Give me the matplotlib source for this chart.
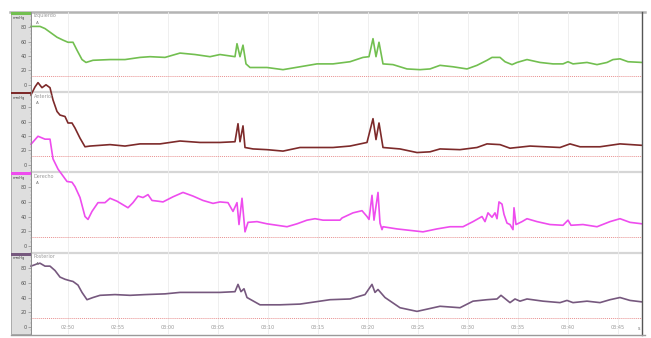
import matplotlib
matplotlib.use("Agg")
import matplotlib.pyplot as plt
from matplotlib.patches import Rectangle
from matplotlib.lines import Line2D
from matplotlib.ticker import FuncFormatter, MultipleLocator

# time in seconds (02:50 == 170 s), pressure in mmHg
t_izq = [166.3, 167.2, 167.7, 168.2, 168.9, 169.5, 170.0, 170.5, 170.9, 171.4, 171.8, 172.5,
         174.2, 175.7, 177.2, 178.2, 179.7, 181.2, 182.7, 184.2, 185.2, 186.7, 186.9, 187.2,
         187.5, 187.8, 188.2, 189.9, 191.5, 193.2, 194.9, 196.5, 198.2, 199.5, 200.1, 200.5,
         200.8, 201.1, 201.5, 202.5, 203.9, 205.2, 206.2, 207.2, 208.5, 209.9, 210.9, 211.9,
         212.4, 213.2, 213.7, 214.4, 214.9, 215.9, 217.2, 218.5, 219.5, 220.0, 220.5, 221.9,
         222.9, 223.9, 224.5, 225.2, 226.0, 227.4]
p_izq = [81, 81, 78, 73, 66, 62, 59, 59, 48, 35, 31, 34,
         35, 35, 38, 39, 38, 44, 42, 39, 42, 39, 57, 39,
         55, 29, 24, 24, 21, 25, 29, 29, 32, 38, 39, 64,
         39, 59, 29, 28, 22, 21, 22, 27, 25, 22, 27, 34,
         38, 38, 32, 28, 31, 35, 31, 29, 29, 32, 29, 31,
         28, 31, 35, 36, 32, 31]

t_ant = [166.3, 166.7, 167.0, 167.4, 167.8, 168.2, 168.5, 168.9, 169.2, 169.7, 170.0, 170.4,
         170.7, 171.2, 171.7, 172.2, 174.2, 175.7, 177.2, 179.2, 181.2, 183.2, 185.2, 186.7,
         187.0, 187.2, 187.5, 187.7, 188.5, 189.9, 191.5, 193.2, 194.9, 196.5, 198.2, 199.9,
         200.5, 200.8, 201.1, 201.5, 203.2, 204.9, 206.2, 207.2, 209.2, 210.9, 211.9, 213.2,
         214.2, 216.2, 219.2, 220.2, 221.2, 223.2, 225.2, 227.4]
p_ant = [97, 108, 114, 107, 111, 107, 90, 74, 69, 67, 58, 58,
         51, 37, 25, 26, 28, 26, 29, 29, 33, 31, 31, 32,
         57, 32, 54, 24, 22, 21, 19, 24, 24, 24, 26, 31,
         64, 35, 58, 24, 22, 17, 18, 22, 21, 24, 29, 28,
         23, 26, 24, 29, 25, 25, 29, 27]

t_der = [166.3, 167.0, 167.7, 168.2, 168.5, 169.0, 169.9, 170.4, 170.7, 171.2, 171.7, 172.0,
         172.4, 173.0, 173.7, 174.2, 174.9, 176.0, 176.5, 177.0, 177.5, 178.0, 178.4, 179.0,
         179.5, 180.5, 181.5, 182.5, 183.5, 184.5, 185.2, 186.0, 186.5, 186.9, 187.1, 187.4,
         187.7, 188.0, 188.9, 189.9, 190.9, 191.9, 192.9, 193.9, 194.7, 195.5, 197.2, 197.4,
         198.5, 199.4, 199.9, 200.1, 200.4, 200.6, 201.0, 201.2, 201.4, 201.5, 202.9, 204.2,
         205.5, 206.9, 208.2, 209.5, 210.5, 211.4, 211.7, 212.0, 212.4, 212.7, 212.9, 213.1,
         213.4, 213.6, 213.9, 214.2, 214.5, 214.6, 214.8, 215.4, 215.9, 216.9, 218.2, 219.5,
         220.0, 220.3, 221.5, 222.9, 224.2, 225.2, 226.2, 227.4]
p_der = [139, 150, 146, 146, 119, 105, 88, 87, 81, 66, 40, 36,
         47, 59, 59, 65, 61, 52, 59, 68, 66, 70, 62, 61,
         60, 67, 73, 68, 62, 58, 60, 59, 47, 59, 29, 65,
         19, 32, 33, 30, 28, 26, 30, 35, 37, 35, 35, 38,
         45, 48, 40, 36, 69, 35, 73, 31, 22, 26, 23, 21,
         19, 23, 26, 26, 33, 40, 33, 45, 39, 45, 37, 60,
         57, 43, 31, 29, 22, 52, 29, 33, 37, 33, 29, 28,
         35, 28, 29, 26, 33, 37, 32, 30]

t_pos = [166.3, 166.9, 167.2, 167.7, 168.2, 168.7, 169.2, 169.7, 170.2, 170.5, 171.0, 171.4,
         171.9, 172.5, 173.2, 174.7, 176.2, 177.7, 179.7, 181.2, 183.2, 185.2, 186.7, 187.0,
         187.3, 187.6, 187.9, 189.2, 191.2, 193.2, 196.2, 198.2, 199.7, 200.4, 200.7, 201.0,
         201.7, 203.2, 204.9, 207.2, 209.2, 210.5, 211.9, 212.9, 213.3, 214.2, 214.7, 215.2,
         215.9, 217.5, 219.2, 219.9, 220.5, 221.9, 223.2, 224.2, 225.2, 226.2, 227.4]
p_pos = [83, 86, 87, 83, 83, 77, 68, 65, 63, 62, 57, 47,
         37, 40, 43, 44, 43, 44, 45, 47, 47, 47, 48, 58,
         48, 52, 40, 30, 30, 31, 37, 38, 44, 58, 47, 51,
         40, 26, 21, 28, 26, 35, 37, 38, 43, 33, 38, 35,
         38, 35, 33, 36, 33, 35, 33, 37, 40, 36, 34]

names = ["Izquierdo", "Anterior", "Derecho", "Posterior"]
colors = ["#72bf50", "#7d2a2a", "#ee4cee", "#76587e"]
series = [(t_izq, p_izq), (t_ant, p_ant), (t_der, p_der), (t_pos, p_pos)]
threshold = 12

W, H = 651, 338
fig = plt.figure(figsize=(W / 100, H / 100), dpi=100)


def fx(px):
    return px / W


def fy(py):
    return 1 - py / H


x0, x1 = 31, 642
bounds = [(12, 92), (92, 172), (172, 253), (253, 334)]

# gray label column on the left
fig.patches.append(Rectangle((fx(11), fy(334)), fx(x0) - fx(11), (334 - 12) / H,
                             transform=fig.transFigure, facecolor="#dedede",
                             edgecolor="#a0a0a0", lw=0.6, zorder=-2))

for (top, bot), name, col, (t, p) in zip(bounds, names, colors, series):
    ax = fig.add_axes([fx(x0), fy(bot), fx(x1) - fx(x0), (bot - top) / H])
    ax.set_facecolor("none")
    ax.set_xlim(166.3, 227.4)
    ax.set_ylim(-10, 101)
    for s in ax.spines.values():
        s.set_visible(False)
    ax.xaxis.set_major_locator(MultipleLocator(5))
    ax.grid(axis="x", color="#ededed", lw=0.6)
    ax.set_yticks([0, 20, 40, 60, 80])
    ax.yaxis.set_minor_locator(MultipleLocator(5))
    ax.tick_params(axis="y", which="major", labelsize=3.5, labelcolor="#555555",
                   length=2, width=0.4, color="#777777", pad=0.8)
    ax.tick_params(axis="y", which="minor", length=1, width=0.3, color="#999999")
    ax.tick_params(axis="x", length=0)
    ax.axhline(threshold, color="#e89090", lw=0.7, ls=(0, (1, 1)))
    ax.plot(t, p, color=col, lw=1.2, clip_on=False, zorder=5,
            solid_joinstyle="round")

    if bot == 334:
        ax.xaxis.set_major_formatter(
            FuncFormatter(lambda v, pos: "%02d:%02d" % (int(v // 60), int(round(v % 60)))))
        ax.tick_params(axis="x", labelsize=3.5, labelcolor="#999999", pad=-6.2)
    else:
        ax.set_xticklabels([])

    # colour strip and unit in the label column, name in the plot
    fig.patches.append(Rectangle((fx(11), fy(top + 2.5)), fx(x0) - fx(11), 2.5 / H,
                                 transform=fig.transFigure, facecolor=col,
                                 edgecolor="none", zorder=3))
    fig.text(fx(13), fy(top + 5.5), "mmHg", fontsize=2.6, color="#444444", va="center")
    fig.text(fx(x0 + 3), fy(top + 4), name, fontsize=3.5, color="#9a9a9a", va="center")
    fig.text(fx(x0 + 5), fy(top + 11), "A", fontsize=3, color="#777777", va="center")

# separators and frame
for yb in [92, 172, 253]:
    fig.add_artist(Line2D([fx(x0), fx(x1)], [fy(yb), fy(yb)], color="#d6d6d6",
                          lw=1.6, zorder=-1))
fig.add_artist(Line2D([fx(10), fx(645)], [fy(12), fy(12)], color="#b4b4b4", lw=1.8, zorder=-1))
fig.add_artist(Line2D([fx(x1), fx(x1)], [fy(12), fy(335)], color="#555555", lw=1.0, zorder=6))
fig.add_artist(Line2D([fx(x0), fx(x0)], [fy(12), fy(335)], color="#8a8a8a", lw=0.6, zorder=6))
fig.add_artist(Line2D([fx(11), fx(645)], [fy(334.5), fy(334.5)], color="#9a9a9a", lw=1.0, zorder=6))
fig.text(fx(638), fy(328), "s", fontsize=3.5, color="#777777", va="center")

fig.savefig("out.png", dpi=100)
